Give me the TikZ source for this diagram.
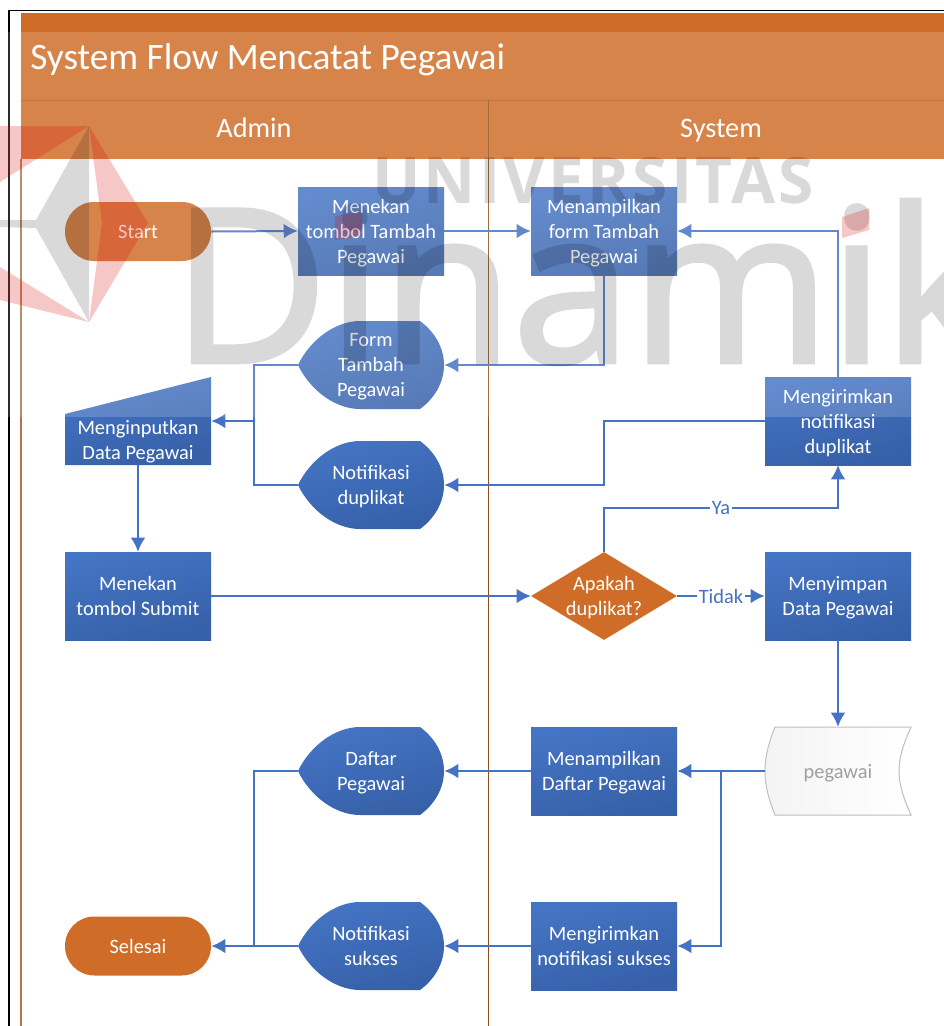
\documentclass[tikz,border=0pt]{standalone}
\usepackage{fontspec}
\setmainfont{Carlito}
\newfontfamily\wmfont[FakeBold=2.2]{Open Sans}
\newfontfamily\wmbold[LetterSpace=5]{Open Sans Bold}
\usetikzlibrary{arrows.meta,shapes.geometric,calc}
\definecolor{hdr}{HTML}{CF6C27}
\definecolor{lnk}{HTML}{4472C4}
\definecolor{bluetop}{HTML}{4474C4}
\definecolor{bluebot}{HTML}{3660A8}
\tikzset{
  nodetext/.style={text=white,align=center,font=\fontsize{15.3}{18.75}\selectfont,inner sep=0pt,text depth=0pt},
  procbox/.style={nodetext,rectangle,minimum width=109.5pt,minimum height=66pt,top color=bluetop,bottom color=bluebot,shading angle=15,draw=none},
  boxtext/.style={nodetext,rectangle,minimum width=109.5pt,minimum height=66pt},
  terminal/.style={nodetext,rectangle,rounded corners=22pt,fill=hdr,minimum width=109.5pt,minimum height=44.25pt},
  bluefill/.style={top color=bluetop,bottom color=bluebot,shading angle=15},
  link/.style={draw=lnk,line width=1.5pt},
  arrowlink/.style={link,-{Latex[length=10.5pt,width=11pt]}},
  edgelabel/.style={fill=white,inner sep=1pt,text=lnk,font=\fontsize{15.3}{18}\selectfont},
  headtext/.style={text=white,inner sep=0pt},
}
\newcommand{\dispnode}[4]{%
  \path[bluefill] (#2-73,#3) .. controls (#2-61,#3-25) and (#2-36,#3-44) .. (#2-11,#3-44) -- (#2+49,#3-44)
     .. controls (#2+64,#3-33) and (#2+73,#3-17) .. (#2+73,#3)
     .. controls (#2+73,#3+17) and (#2+64,#3+33) .. (#2+49,#3+44) -- (#2-11,#3+44)
     .. controls (#2-36,#3+44) and (#2-61,#3+25) .. (#2-73,#3) -- cycle;
  \node[boxtext] (#1) at (#2,#3) {#4};}
\begin{document}
\begin{tikzpicture}[x=0.75pt,y=-0.75pt]
\useasboundingbox (0,0) rectangle (944,1026);
\fill[white] (0,0) rectangle (944,1026);
% header
\fill[hdr] (21,13) rectangle (944,159);
\draw[color=black,line width=1.2pt] (9,1026) -- (9,10.5) -- (944,10.5);
\draw[color=hdr!85!black,line width=0.6pt] (21,100) -- (944,100);
\draw[color=hdr!55!gray,line width=1.5pt] (21,159) -- (21,1026);
\draw[color=hdr!70!black,line width=0.7pt] (488,100) -- (488,1026);
\node[headtext,anchor=west,font=\fontsize{28}{32}\selectfont] (title) at (30,60) {System Flow Mencatat Pegawai};
\node[headtext,anchor=base,font=\fontsize{21.2}{24}\selectfont] (admin) at (254,137) {Admin};
\node[headtext,anchor=base,font=\fontsize{21.2}{24}\selectfont] (system) at (721,137) {System};
% nodes
\node[terminal] (start) at (138,231.5) {Start};
\node[procbox] (tekan) at (371,231) {Menekan\\tombol Tambah\\Pegawai};
\node[procbox] (tampil) at (604,231) {Menampilkan\\form Tambah\\Pegawai};
\dispnode{form}{371}{365}{Form\\Tambah\\Pegawai}
\dispnode{notifdup}{371}{485}{Notifikasi\\duplikat}
\path[bluefill] (65,414) -- (211,377) -- (211,465) -- (65,465) -- cycle;
\node[boxtext,minimum height=37.5pt] (input) at (138,440) {Menginputkan\\Data Pegawai};
\node[procbox] (kirimdup) at (838,421) {Mengirimkan\\notifikasi\\duplikat};
\node[procbox] (submit) at (138,596) {Menekan\\tombol Submit};
\node[diamond,fill=hdr,inner sep=0pt,minimum width=109.5pt,minimum height=66pt] (cek) at (604,596) {};
\node[nodetext] (cektext) at (cek.center) {Apakah\\duplikat?};
\node[procbox] (simpan) at (838,596) {Menyimpan\\Data Pegawai};
\path[left color=gray!9,right color=white,draw=gray!50,line width=0.75pt] (775,727) -- (911,727) .. controls (903,745) and (899,758) .. (899,771) .. controls (899,784) and (903,797) .. (911,815) -- (775,815) .. controls (769,800) and (765,786) .. (765,771) .. controls (765,756) and (769,742) .. (775,727) -- cycle;
\node[boxtext,text=gray!75] (pegawai) at (838,771) {pegawai};
\node[procbox] (daftar) at (604,771) {Menampilkan\\Daftar Pegawai};
\dispnode{dafpeg}{371}{771}{Daftar\\Pegawai}
\node[procbox] (kirimsuk) at (604,946) {Mengirimkan\\notifikasi sukses};
\dispnode{notifsuk}{371}{946}{Notifikasi\\sukses}
\node[terminal] (selesai) at (138,946) {Selesai};
% junctions
\coordinate (j1) at (254,421);
\coordinate (j2) at (721,771);
\coordinate (j3) at (254,946);
% connectors
\draw[arrowlink] (start.east) -- (tekan.west);
\draw[arrowlink] (tekan.east) -- (tampil.west);
\draw[arrowlink] (tampil.south) |- (form.east);
\draw[arrowlink] (kirimdup.north) |- (tampil.east);
\draw[link] (form.west) -| (j1);
\draw[link] (notifdup.west) -| (j1);
\draw[arrowlink] (j1) -- (j1 -| input.east);
\draw[arrowlink] (kirimdup.west) -- ++(-161,0) |- (notifdup.east);
\draw[arrowlink] (input.south) -- (submit.north);
\draw[arrowlink] (submit.east) -- (cek.west);
\draw[arrowlink] (cek.north) -- ++(0,-44) -- node[edgelabel] (ya) {Ya} ++(234,0) -- (kirimdup.south);
\draw[arrowlink] (cek.east) -- node[edgelabel] (tidak) {Tidak} (simpan.west);
\draw[arrowlink] (simpan.south) -- (pegawai.north);
\draw[arrowlink] (pegawai.west) -- (daftar.east);
\draw[arrowlink] (j2) |- (kirimsuk.east);
\draw[arrowlink] (daftar.west) -- (dafpeg.east);
\draw[arrowlink] (kirimsuk.west) -- (notifsuk.east);
\draw[link] (dafpeg.west) -| (j3);
\draw[arrowlink] (notifsuk.west) -- (selesai.east);
% washed-out scan with watermark
\begin{scope}
\clip (0,32) rectangle (944,417);
\fill[white,opacity=.17] (0,32) rectangle (944,417);
\fill[black,opacity=.15] (89,126) -- (36,220) -- (0,220) -- (0,227) -- (36,228) -- (89,322) -- cycle;
\fill[red!85!black,opacity=.22] (89,126) -- (148,223) -- (89,322) -- (102,223) -- cycle;
\fill[red!85!black,opacity=.22] (0,126) -- (89,126) -- (0,182) -- cycle;
\fill[red!85!black,opacity=.22] (0,267) -- (89,322) -- (0,300) -- cycle;
\begin{scope}[transparency group,opacity=.15]
\node[anchor=base west,inner sep=0pt,text=black,font=\fontsize{160}{160}\wmfont] (wmdin) at (172,362) {Dinamik};
\node[anchor=base west,inner sep=0pt,text=black,font=\fontsize{48}{48}\wmbold] (wmuni) at (372,203) {UNIVERSITAS};
\end{scope}
\fill[red!85!black,opacity=.22] (842,217) -- (869,208) -- (869,230) -- (842,238) -- cycle;
\fill[red!85!black,opacity=.22] (335,216) -- (362,212) -- (362,236) -- (335,240) -- cycle;
\end{scope}
\end{tikzpicture}
\end{document}
